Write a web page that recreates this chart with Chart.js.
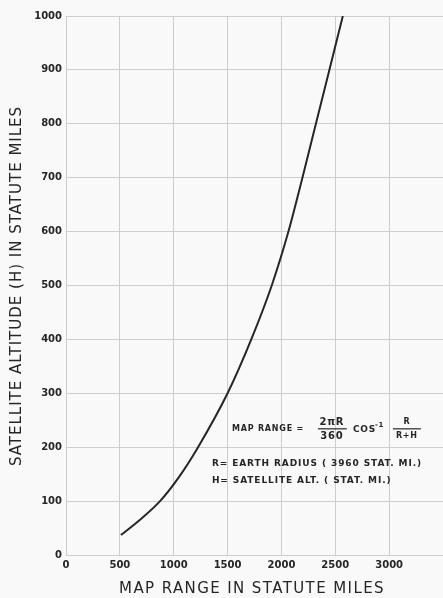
<!DOCTYPE html>
<html>
<head>
<meta charset="utf-8">
<script src="https://cdn.jsdelivr.net/npm/chart.js@4/dist/chart.umd.min.js"></script>
<style>
  html, body { margin: 0; padding: 0; background: #f9f9f9; }
  #wrap { width: 443px; height: 598px; }
</style>
</head>
<body>
<div id="wrap"><canvas id="rangeChart"></canvas></div>
<script>
// Map range (statute miles) vs satellite altitude (statute miles)
const mapRange = [510, 690, 873, 1050, 1226, 1500, 1720, 1910, 2065, 2195, 2320, 2445, 2570];
const altitude = [37, 66, 100, 145, 200, 300, 400, 500, 600, 700, 800, 900, 1000];

const xTicks = [0, 500, 1000, 1500, 2000, 2500, 3000];
const yTicks = [0, 100, 200, 300, 400, 500, 600, 700, 800, 900, 1000];

const xTitle = 'MAP RANGE IN STATUTE MILES';
const yTitle = 'SATELLITE ALTITUDE (H) IN STATUTE MILES';
const noteLines = ['R= EARTH RADIUS ( 3960 STAT. MI.)', 'H= SATELLITE ALT. ( STAT. MI.)'];

const points = mapRange.map((x, i) => ({ x: x, y: altitude[i] }));

const inkColor = '#262626';
const gridColor = '#cdcdcd';
const tickFont = { family: "'DejaVu Sans', sans-serif", size: 10, weight: 'bold' };

// axis titles and the formula box, drawn by hand so letter spacing can be used
const labelsPlugin = {
    id: 'labels',
    afterDraw(chart) {
        const ctx = chart.ctx;
        ctx.save();
        ctx.fillStyle = inkColor;
        ctx.strokeStyle = inkColor;
        ctx.textBaseline = 'middle';
        ctx.textAlign = 'center';

        // x axis title
        ctx.font = "15px 'DejaVu Sans', sans-serif";
        ctx.letterSpacing = '1.4px';
        ctx.fillText(xTitle, 252, 589);

        // y axis title
        ctx.save();
        ctx.translate(17, 286);
        ctx.rotate(-Math.PI / 2);
        ctx.font = "15px 'DejaVu Sans', sans-serif";
        ctx.letterSpacing = '1px';
        ctx.fillText(yTitle, 0, 0);
        ctx.restore();

        // formula
        const sx = chart.scales.x, sy = chart.scales.y;
        const fx = sx.getPixelForValue(1540);
        const fy = sy.getPixelForValue(235);
        ctx.letterSpacing = '0.8px';
        ctx.font = "bold 8px 'DejaVu Sans', sans-serif";
        ctx.textAlign = 'left';
        ctx.fillText('MAP RANGE =', fx, fy + 1);

        ctx.textAlign = 'center';
        ctx.font = "bold 10px 'DejaVu Sans', sans-serif";
        ctx.fillText('2\u03c0R', fx + 100, fy - 6);
        ctx.fillText('360', fx + 100, fy + 8);
        ctx.lineWidth = 1.2;
        ctx.beginPath();
        ctx.moveTo(fx + 86, fy + 0.5);
        ctx.lineTo(fx + 115, fy + 0.5);
        ctx.stroke();

        ctx.textAlign = 'left';
        ctx.font = "bold 9px 'DejaVu Sans', sans-serif";
        ctx.fillText('COS', fx + 121, fy + 1);
        ctx.font = "bold 7px 'DejaVu Sans', sans-serif";
        ctx.fillText('-1', fx + 143, fy - 3);

        ctx.textAlign = 'center';
        ctx.font = "bold 8px 'DejaVu Sans', sans-serif";
        ctx.fillText('R', fx + 175, fy - 6);
        ctx.fillText('R+H', fx + 175, fy + 8);
        ctx.beginPath();
        ctx.moveTo(fx + 161, fy + 0.5);
        ctx.lineTo(fx + 189, fy + 0.5);
        ctx.stroke();

        // legend notes
        ctx.textAlign = 'left';
        ctx.font = "bold 9px 'DejaVu Sans', sans-serif";
        ctx.letterSpacing = '0.9px';
        noteLines.forEach((line, i) => {
            ctx.fillText(line, fx - 20, fy + 35 + i * 17);
        });
        ctx.restore();
    }
};

new Chart(document.getElementById('rangeChart'), {
    type: 'scatter',
    data: {
        datasets: [{
            data: points,
            showLine: true,
            borderColor: inkColor,
            borderWidth: 2,
            pointRadius: 0,
            cubicInterpolationMode: 'monotone'
        }]
    },
    options: {
        responsive: true,
        maintainAspectRatio: false,
        animation: false,
        layout: { padding: { top: 16, right: 0, left: 0, bottom: 0 } },
        plugins: {
            legend: { display: false },
            tooltip: { enabled: false }
        },
        scales: {
            x: {
                type: 'linear',
                min: 0,
                max: 3500,
                afterFit: (scale) => {
                    scale.height = 43;
                    scale.paddingRight = 0;
                    scale.paddingLeft = 0;
                },
                afterBuildTicks: (scale) => {
                    scale.ticks = xTicks.concat([3500]).map(v => ({ value: v }));
                },
                grid: { color: gridColor, drawTicks: false },
                border: { color: gridColor },
                ticks: {
                    color: inkColor,
                    font: tickFont,
                    padding: 4,
                    maxRotation: 0,
                    callback: (v) => xTicks.includes(v) ? String(v) : ''
                }
            },
            y: {
                type: 'linear',
                min: 0,
                max: 1000,
                afterFit: (scale) => { scale.width = 66; },
                afterBuildTicks: (scale) => {
                    scale.ticks = yTicks.map(v => ({ value: v }));
                },
                grid: { color: gridColor, drawTicks: false },
                border: { color: gridColor },
                ticks: {
                    color: inkColor,
                    font: tickFont,
                    padding: 4,
                    callback: (v) => String(v)
                }
            }
        }
    },
    plugins: [labelsPlugin]
});
</script>
</body>
</html>
